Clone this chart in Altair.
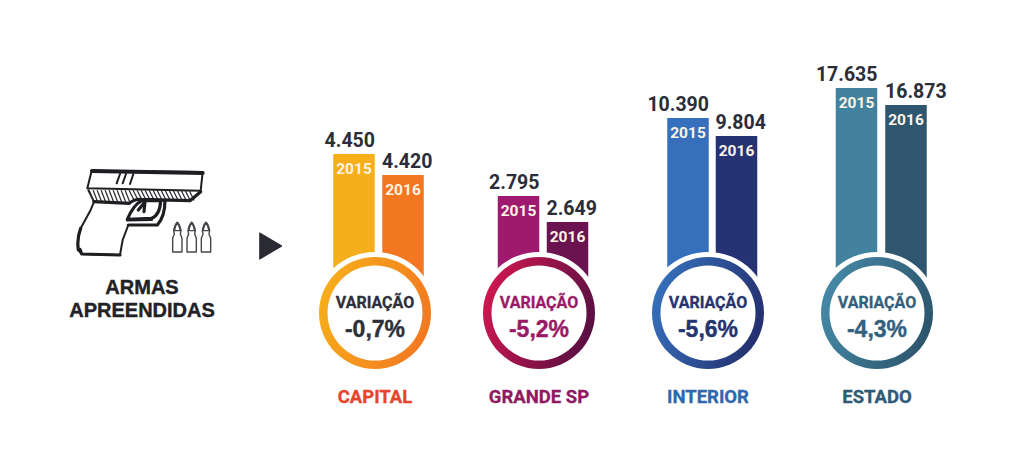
import altair as alt
import pandas as pd

grupos = ["CAPITAL", "GRANDE SP", "INTERIOR", "ESTADO"]
valores_2015 = [4450, 2795, 10390, 17635]
valores_2016 = [4420, 2649, 9804, 16873]
rotulos_2015 = ["4.450", "2.795", "10.390", "17.635"]
rotulos_2016 = ["4.420", "2.649", "9.804", "16.873"]
variacoes = ["-0,7%", "-5,2%", "-5,6%", "-4,3%"]

# pictorial (non-proportional) value axis of the infographic
y_dom = [0, 2649, 2795, 4420, 4450, 9804, 10390, 16873, 17635]
y_rng = [305, 214, 188, 167, 146, 128, 110, 97, 80]
yscale = alt.Scale(domain=y_dom, range=y_rng, nice=False, zero=False, padding=0)

linhas = []
for i, g in enumerate(grupos):
    linhas.append(dict(grupo=g, ano="2015", chave=g + "|2015", ordem=2 * i, valor=valores_2015[i], rotulo=rotulos_2015[i]))
    linhas.append(dict(grupo=g, ano="2016", chave=g + "|2016", ordem=2 * i + 1, valor=valores_2016[i], rotulo=rotulos_2016[i]))
df = pd.DataFrame(linhas)
dg = pd.DataFrame({"grupo": grupos, "ordem": range(4), "variacao": variacoes, "titulo": ["VARIAÇÃO"] * 4, "zero": [0] * 4})

chaves = list(df["chave"])
x_barras = alt.X("ordem:Q", axis=None, scale=alt.Scale(domain=list(range(8)), nice=False, zero=False, padding=0,
                 range=[346, 395, 510.5, 559.5, 680, 728.5, 848.5, 898]))
x_grupo = alt.X("ordem:Q", axis=None, scale=alt.Scale(domain=list(range(4)), nice=False, zero=False, padding=0,
                range=[367, 531, 700, 869]))
y_val = alt.Y("valor:Q", axis=None, scale=yscale, stack=None)
y_zero = alt.Y("zero:Q", axis=None, scale=yscale)

cores_barras = ["#F6AE1B", "#F37720", "#9F1A6E", "#6B1250", "#3670BC", "#253274", "#43829F", "#2F566E"]
cores_titulo = ["#E8432B", "#8F1A63", "#2F68AE", "#2F5A75"]
cores_var = ["#2D2F3B", "#9B1A66", "#25336F", "#33617D"]
gradientes = [("#F6AE1B", "#F37720"), ("#CF1750", "#560F42"), ("#3670BC", "#232E6C"), ("#4589A7", "#2C546B")]

barras = alt.Chart(df).mark_bar(width=41.5, orient="vertical").encode(
    x=x_barras, y=y_val,
    color=alt.Color("chave:N", legend=None, scale=alt.Scale(domain=chaves, range=cores_barras)),
)
camadas = [barras]

FV = "Roboto"
d15 = df[df.ano == "2015"]
d16 = df[df.ano == "2016"]
camadas.append(alt.Chart(d15).mark_text(font=FV, fontWeight="bold", fontSize=19.5, align="right", baseline="alphabetic",
                                        dx=21, dy=-7, color="#2B2D38").encode(x=x_barras, y=y_val, text="rotulo:N"))
camadas.append(alt.Chart(d16).mark_text(font=FV, fontWeight="bold", fontSize=19.5, align="left", baseline="alphabetic",
                                        dx=-21, dy=-7, color="#2B2D38").encode(x=x_barras, y=y_val, text="rotulo:N"))
camadas.append(alt.Chart(df).mark_text(font=FV, fontWeight="bold", fontSize=15.5, align="center", baseline="alphabetic",
                                       dy=19.5, color="#FBF3E6").encode(x=x_barras, y=y_val, text="ano:N"))

aneis = []
aneis.append(alt.Chart(dg).mark_circle(size=14884, color="white", opacity=1).encode(x=x_grupo, y=y_zero))
for i, g in enumerate(grupos):
    grad = alt.LinearGradient(gradient="linear", x1=0, x2=1, y1=0.35, y2=0.65,
                              stops=[alt.GradientStop(offset=0, color=gradientes[i][0]),
                                     alt.GradientStop(offset=1, color=gradientes[i][1])])
    aneis.append(alt.Chart(dg[dg.grupo == g]).mark_circle(size=12544, fill=grad, opacity=1).encode(x=x_grupo, y=y_zero))
aneis.append(alt.Chart(dg).mark_circle(size=9025, color="white", opacity=1).encode(x=x_grupo, y=y_zero))

cor_g = lambda cores: alt.Color("grupo:N", legend=None, scale=alt.Scale(domain=grupos, range=cores))
tra_g = lambda cores: alt.Stroke("grupo:N", legend=None, scale=alt.Scale(domain=grupos, range=cores))
F = "Liberation Sans"
textos = []
textos.append(alt.Chart(dg).mark_text(font=FV, fontWeight="bold", fontSize=16, align="center", baseline="alphabetic", strokeWidth=0.3).encode(
    x=x_grupo, y=alt.value(300), text="titulo:N", color=cor_g(cores_var), stroke=tra_g(cores_var)))
textos.append(alt.Chart(dg).mark_text(font=F, fontWeight="bold", fontSize=23, align="center", baseline="alphabetic", strokeWidth=0.4).encode(
    x=x_grupo, y=alt.value(328.5), text="variacao:N", color=cor_g(cores_var), stroke=tra_g(cores_var)))
textos.append(alt.Chart(dg).mark_text(font=FV, fontWeight="bold", fontSize=18.5, align="center", baseline="alphabetic", strokeWidth=0.3).encode(
    x=x_grupo, y=alt.value(395), text="grupo:N", color=cor_g(cores_titulo), stroke=tra_g(cores_titulo)))

# pictogram
um = pd.DataFrame({"a": [0]})
def icone(path, sw, cor="#1E1E22", fill=None, x=62, y=152):
    kw = dict(shape=path, size=4 / 9, filled=False, stroke=cor, strokeWidth=sw, opacity=1, strokeCap="round", strokeJoin="round")
    if fill:
        kw["fill"] = fill
    return alt.Chart(um).mark_point(**kw).encode(x=alt.value(x), y=alt.value(y))

contorno = ("M65,32 L398,36 L392,92 L52,85 Z "
            "M55,90 L72,125 L62,150 L32,205 Q20,235 25,270 L35,282 L150,285 L158,240 L175,195 L262,195 Q285,170 285,120 "
            "M150,42 L140,70 M168,42 L158,70 M190,42 L180,72")
hachura = " ".join(f"M{x},92 L{x+14},{128 if x < 170 else 120}" for x in range(58, 370, 12))
grosso = ("M72,125 L178,130 Q195,116 215,118 L360,122 L392,95 "
          "M172,178 Q190,135 215,122 L272,122 Q270,165 245,175 Z M172,180 L245,178 "
          "M205,150 L225,125 L222,155 M30,268 L35,282 L150,285 M32,205 Q20,235 25,270 M175,195 L262,195 Q285,170 285,120")
icones = [icone(contorno, 2), icone(hachura, 1.3, "#333338"), icone(grosso, 3.2), icone("M66,33 L398,39", 4)]
balas = ""
pontas = ""
for cx in [322, 365, 408]:
    pontas += f"M{cx-9},210 Q{cx-6},195 {cx},188 Q{cx+6},195 {cx+9},210 "
    balas += (f"M{cx-11},212 Q{cx-8},195 {cx},187 Q{cx+8},195 {cx+11},212 Z "
              f"M{cx-11},212 L{cx-9},222 L{cx-14},235 L{cx-14},276 L{cx+14},276 L{cx+14},235 L{cx+9},222 L{cx+11},212 ")
icones.append(icone(balas, 1.4, "#46464C"))
icones.append(icone(pontas, 1.8, "#46464C"))
# arrow
icones.append(icone("M-33,-39 L33,0 L-33,39 Z", 1, "#2A2A33", "#2A2A33", x=263, y=238))

t = alt.Chart(pd.DataFrame({"t": ["ARMAS", "APREENDIDAS"], "p": [286, 309]}))
titulo = t.mark_text(font=F, fontWeight="bold", fontSize=20, align="center", baseline="alphabetic", color="#222226",
                     stroke="#222226", strokeWidth=0.4).encode(
    x=alt.value(134), y=alt.Y("p:Q", axis=None, scale=None), text="t:N")

barras_l = alt.layer(*camadas).resolve_scale(color="independent")
aneis_l = alt.layer(*aneis, *textos).resolve_scale(color="independent", stroke="independent")
chart = alt.layer(barras_l, aneis_l, *icones, titulo).resolve_scale(x="independent", color="independent", stroke="independent").properties(
    width=1008, height=446, padding=0, autosize=alt.AutoSizeParams(type="none"), background="white"
).configure_view(stroke=None)

chart.save("out.html", embed_options={"renderer": "svg", "actions": False})
